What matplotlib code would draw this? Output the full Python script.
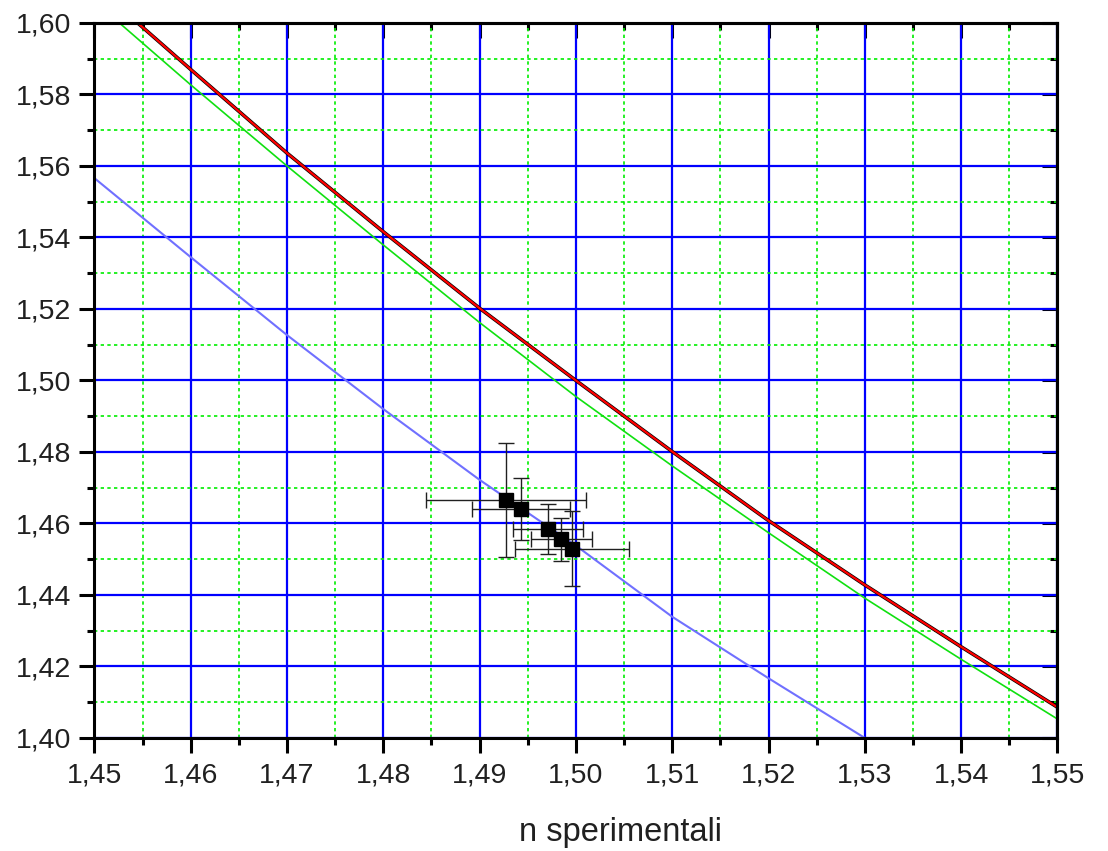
import numpy as np
import matplotlib
matplotlib.use("Agg")
from matplotlib import pyplot as plt
from matplotlib.ticker import MultipleLocator, FuncFormatter

plt.rcParams["font.family"] = ["Liberation Sans", "DejaVu Sans"]

# measured refractive indices with uncertainties
n_exp = [1.4927, 1.4943, 1.4971, 1.4985, 1.4996]
n_y = [1.4666, 1.4640, 1.4585, 1.4556, 1.4530]
err_x = [0.0083, 0.0051, 0.0036, 0.0032, 0.0059]
err_y = [0.0160, 0.0086, 0.0069, 0.0060, 0.0106]

# reference curves
red_x = [1.4545, 1.46, 1.47, 1.48, 1.49, 1.50, 1.51, 1.52, 1.53, 1.54, 1.55]
red_y = [1.600, 1.5870, 1.5636, 1.5416, 1.5202, 1.5000, 1.4801, 1.4608, 1.4428, 1.4255, 1.4086]

green_x = [1.4526, 1.46, 1.47, 1.48, 1.49, 1.50, 1.51, 1.52, 1.53, 1.54, 1.55]
green_y = [1.600, 1.5827, 1.5600, 1.5379, 1.5162, 1.4955, 1.4761, 1.4574, 1.4391, 1.4220, 1.4053]

blue_x = [1.45, 1.46, 1.47, 1.48, 1.49, 1.50, 1.51, 1.52, 1.53]
blue_y = [1.5566, 1.5345, 1.5127, 1.4920, 1.4722, 1.4538, 1.4339, 1.4167, 1.4000]

xmin, xmax = 1.45, 1.55
ymin, ymax = 1.40, 1.60

fig = plt.figure(figsize=(11.08, 8.51), dpi=100)
ax = fig.add_axes([0.0852, 0.1328, 0.8692, 0.8402])

ax.plot(blue_x, blue_y, color="#7070ff", lw=1.5, zorder=3)
ax.plot(green_x, green_y, color="#10e010", lw=1.2, zorder=3)
ax.plot(red_x, red_y, color="black", lw=2.6, zorder=3)
ax.plot(red_x, red_y, color="#ff0000", lw=1.6, zorder=4)

ax.errorbar(n_exp, n_y, xerr=err_x, yerr=err_y, fmt="s", color="black",
            ecolor="#202020", elinewidth=1.0, capsize=5.5, capthick=1.0,
            markersize=9.5, zorder=5)

ax.set_xlim(xmin, xmax)
ax.set_ylim(ymin, ymax)

ax.xaxis.set_major_locator(MultipleLocator(0.01))
ax.xaxis.set_minor_locator(MultipleLocator(0.005))
ax.yaxis.set_major_locator(MultipleLocator(0.02))
ax.yaxis.set_minor_locator(MultipleLocator(0.01))

comma = FuncFormatter(lambda v, pos: f"{v:.2f}".replace(".", ","))
ax.xaxis.set_major_formatter(comma)
ax.yaxis.set_major_formatter(comma)

ax.grid(which="major", color="#0000ff", lw=1.6, ls="-", zorder=1)
ax.grid(which="minor", color="#00ee00", lw=1.2, ls=(0, (2, 2)), zorder=1)
ax.set_axisbelow(True)

for s in ax.spines.values():
    s.set_linewidth(2.2)
    s.set_zorder(6)

ax.tick_params(which="both", bottom=True, left=True, top=False, right=False,
               direction="out", width=2.2, labelsize=20.5, labelcolor="#202020")
ax.tick_params(which="major", length=11)
ax.tick_params(which="minor", length=5)
ax.tick_params(axis="x", pad=7)
ax.tick_params(axis="y", pad=6)

# inward ticks on top and right
ax_top = ax.secondary_xaxis("top")
ax_top.xaxis.set_major_locator(MultipleLocator(0.01))
ax_top.xaxis.set_minor_locator(MultipleLocator(0.005))
ax_top.tick_params(which="both", direction="in", width=2.2, labeltop=False)
ax_top.tick_params(which="major", length=11)
ax_top.tick_params(which="minor", length=5)
ax_right = ax.secondary_yaxis("right")
ax_right.yaxis.set_major_locator(MultipleLocator(0.02))
ax_right.yaxis.set_minor_locator(MultipleLocator(0.01))
ax_right.tick_params(which="both", direction="in", width=2.2, labelright=False)
ax_right.tick_params(which="major", length=11)
ax_right.tick_params(which="minor", length=5)
for sec in (ax_top, ax_right):
    for s in sec.spines.values():
        s.set_linewidth(2.2)

ax.set_xlabel("n sperimentali", fontsize=23.5, color="#202020")
ax.xaxis.set_label_coords(0.546, -0.110)

fig.savefig("out.png", dpi=100)
